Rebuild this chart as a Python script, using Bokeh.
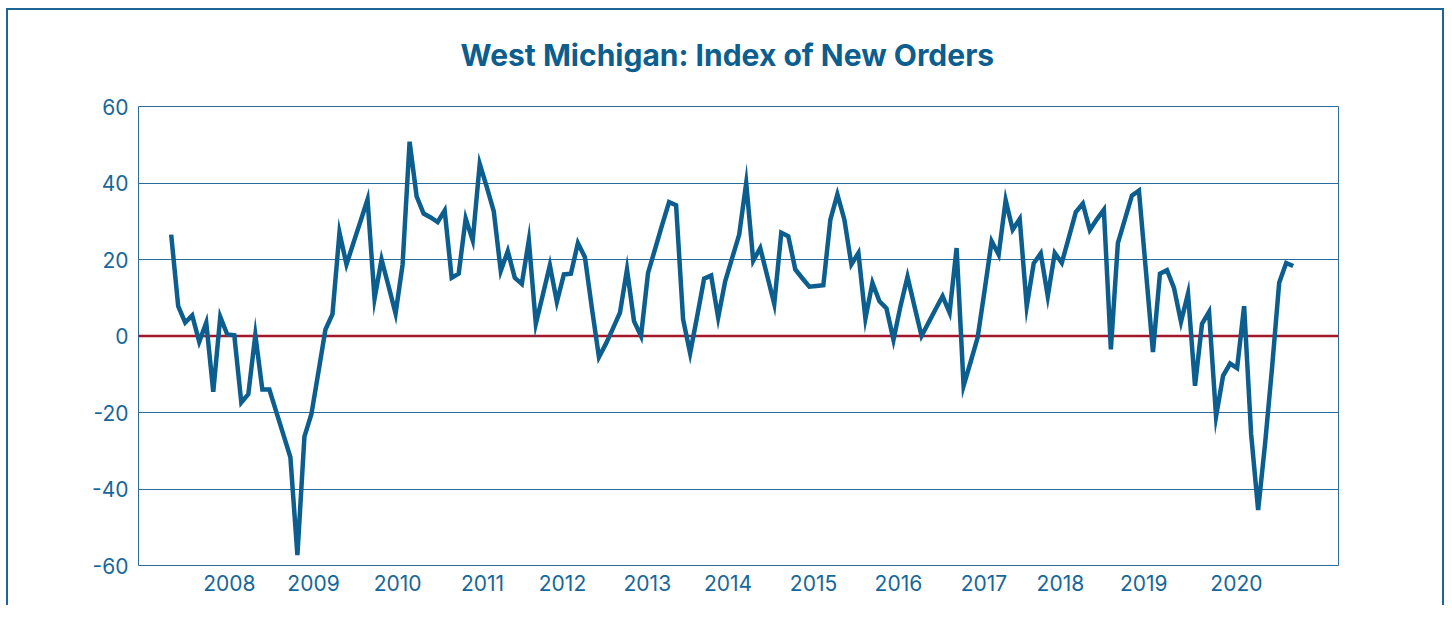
from bokeh.plotting import figure
from bokeh.models import FixedTicker, Span, Range1d
from bokeh.embed import file_html
from bokeh.resources import INLINE

# ---- data (monthly index, first point = month 0) ----
new_orders = [
    26.5, 7.8, 3.5, 5.4, -1.5, 3.5, -14.6, 5.0, 0.4, 0.2,
    -17.4, -15.2, 0.3, -14.0, -14.0, -19.9, -25.8, -31.7, -57.3, -26.3,
    -20.4, -9.4, 1.7, 5.7, 27.0, 18.7, 24.4, 30.0, 35.7, 9.8,
    20.0, 13.0, 5.9, 18.7, 50.8, 36.5, 32.0, 31.0, 29.8, 32.8,
    15.2, 16.3, 30.7, 25.0, 45.0, 39.0, 32.6, 17.0, 22.2, 15.2,
    13.6, 25.0, 3.2, 10.8, 18.5, 8.9, 16.1, 16.3, 24.3, 20.6,
    7.2, -5.5, -2.0, 2.0, 6.1, 17.4, 3.9, 0.0, 16.5, 22.7,
    29.0, 35.0, 34.2, 4.3, -4.5, 5.1, 15.0, 15.8, 4.8, 14.3,
    20.4, 26.5, 40.0, 19.7, 23.0, 15.7, 8.4, 27.0, 26.1, 17.4,
    15.1, 12.9, 13.1, 13.3, 30.4, 37.0, 30.4, 18.7, 21.7, 4.6,
    13.9, 9.1, 7.2, -1.0, 7.8, 15.5, 7.7, 0.0, 3.5, 7.0,
    10.4, 6.1, 23.0, -13.0, -6.8, -0.4, 12.0, 24.8, 21.3, 35.5,
    27.8, 30.6, 7.8, 19.0, 21.6, 10.4, 21.7, 19.1, 25.7, 32.4,
    34.6, 27.7, 30.5, 33.0, -3.5, 24.3, 30.5, 36.7, 38.0, 17.0,
    -4.2, 16.3, 17.2, 12.6, 3.7, 11.1, -13.0, 3.2, 6.3, -21.0,
    -10.4, -7.2, -8.4, 7.8, -25.6, -45.5, -28.0, -8.0, 13.9, 19.1,
    18.3,
]
months = list(range(len(new_orders)))

y_ticks = [-60, -40, -20, 0, 20, 40, 60]
y_grid = [-40, -20, 20, 40]
year_labels = ["2008", "2009", "2010", "2011", "2012", "2013", "2014",
               "2015", "2016", "2017", "2018", "2019", "2020"]
year_tick_pos = [8.3, 20.3, 32.3, 44.4, 55.8, 67.9, 79.4, 91.6, 103.7,
                 115.9, 126.8, 138.7, 151.9]

BLUE = "#0b5e8e"
TEXT = "#17679a"
GRID = "#2a6c9c"
BORDER = "#1d6594"
RED = "#a3172b"
FONT = "Inter"

p = figure(width=1444, height=605, output_backend="svg", toolbar_location=None,
           x_range=Range1d(-4.66, 166.46), y_range=Range1d(-60, 60),
           min_border_left=138, min_border_right=106,
           min_border_top=105, min_border_bottom=40,
           background_fill_color=None, border_fill_color=None)

# outer frame of the panel: left, top and right edges
p.styles = {"box-shadow": (f"inset 6px 8px 0 0 #ffffff, "
                           f"inset 8px 10px 0 0 {BORDER}, "
                           f"inset -2px 0 0 0 {BORDER}")}

p.title.text = "West Michigan: Index of New Orders"
p.title.align = "left"
p.title.offset = 322
p.title.text_font = FONT
p.title.text_font_style = "bold"
p.title.text_font_size = "30px"
p.title.text_color = BLUE
p.title.standoff = 68

p.outline_line_color = GRID
p.outline_line_width = 1

p.xgrid.grid_line_color = None
p.ygrid.ticker = FixedTicker(ticks=y_grid)
p.ygrid.grid_line_color = GRID
p.ygrid.grid_line_width = 1

p.yaxis.ticker = FixedTicker(ticks=y_ticks)
p.yaxis.major_label_overrides = {t: str(t) for t in y_ticks}
p.xaxis.ticker = FixedTicker(ticks=year_tick_pos)
p.xaxis.major_label_overrides = dict(zip(year_tick_pos, year_labels))

for ax in (p.xaxis, p.yaxis):
    ax.axis_line_color = None
    ax.major_tick_line_color = None
    ax.minor_tick_line_color = None
    ax.major_tick_out = 0
    ax.major_tick_in = 0
    ax.major_label_text_font = FONT
    ax.major_label_text_font_size = "21px"
    ax.major_label_text_color = TEXT
p.yaxis.major_label_standoff = 10
p.xaxis.major_label_standoff = 9

zero = Span(location=0, dimension="width", line_color=RED, line_width=2.5,
            level="underlay")
p.add_layout(zero)

p.line(months, new_orders, line_color=BLUE, line_width=4.5, line_join="miter")

open("out.html", "w").write(file_html(p, INLINE))
